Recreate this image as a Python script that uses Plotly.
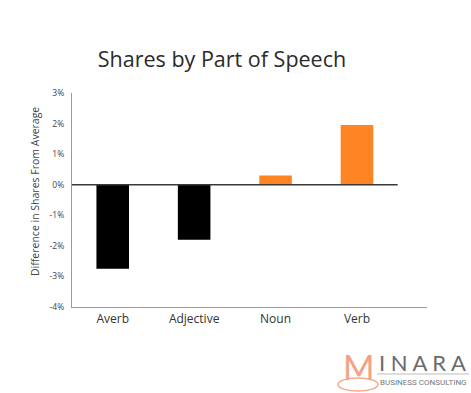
import plotly.graph_objects as go

categories = ["Averb", "Adjective", "Noun", "Verb"]
values = [-2.75, -1.8, 0.3, 1.95]
colors = ["#000000", "#000000", "#FF8424", "#FF8424"]
y_ticks = [3, 2, 1, 0, -1, -2, -3, -4]

W, H = 471, 393
L, R, T, B = 72, 44, 93, 86
pw = W - L - R
ph = H - T - B
FONT = "Open Sans, Lato, sans-serif"

fig = go.Figure()
fig.add_trace(go.Bar(
    x=categories, y=values, marker=dict(color=colors, line=dict(width=0)),
    width=0.4, hoverinfo="skip"
))

fig.update_layout(
    width=W, height=H,
    margin=dict(l=L, r=R, t=T, b=B),
    paper_bgcolor="white", plot_bgcolor="white",
    showlegend=False,
    font=dict(family=FONT, color="#333"),
    title=dict(text="Shares by Part of Speech", x=222 / W, xanchor="center",
               y=1 - 59 / H, yanchor="middle",
               font=dict(size=21.5, color="#2b2b2b", family=FONT)),
    xaxis=dict(
        range=[-0.5, 3.86], showgrid=False, zeroline=False,
        showline=True, linecolor="#9a9a9a", linewidth=1.2,
        ticks="", tickfont=dict(size=12, color="#333", family=FONT),
        fixedrange=True,
    ),
    yaxis=dict(
        range=[-4, 3], tickvals=y_ticks, ticktext=[f"{v}%" for v in y_ticks],
        showgrid=False, zeroline=False,
        showline=True, linecolor="#9a9a9a", linewidth=1.2,
        ticks="outside", ticklen=5, tickcolor="rgba(0,0,0,0)",
        tickfont=dict(size=8.5, color="#444", family=FONT),
        fixedrange=True,
    ),
)

# zero reference line spanning the categories
fig.add_shape(type="line", xref="x", yref="y", x0=-0.5, x1=3.5, y0=0, y1=0,
              line=dict(color="#3a3a3a", width=1.6), layer="above")

# y-axis title
fig.add_annotation(text="Difference in Shares From Average", textangle=-90,
                   xref="paper", yref="paper",
                   x=(35 - L) / pw, y=(H - B - 192) / ph,
                   xanchor="center", yanchor="middle", showarrow=False,
                   font=dict(size=10.5, color="#444", family=FONT))

# watermark logo
fig.add_shape(type="circle", xref="paper", yref="paper",
              x0=(338 - L) / pw, x1=(378 - L) / pw,
              y0=(H - B - 391) / ph, y1=(H - B - 378) / ph,
              line=dict(color="#F6A88C", width=1.5))
fig.add_annotation(text="M", xref="paper", yref="paper",
                   x=(359 - L) / pw, y=(H - B - 366) / ph,
                   xanchor="center", yanchor="middle", showarrow=False,
                   font=dict(size=34, color="#F4A283", family="Lato, sans-serif"))
fig.add_annotation(text="I N A R A", xref="paper", yref="paper",
                   x=(422 - L) / pw, y=(H - B - 362) / ph,
                   xanchor="center", yanchor="middle", showarrow=False,
                   font=dict(size=22, color="#6b6b6b", family="Lato, sans-serif"))
fig.add_shape(type="line", xref="paper", yref="paper",
              x0=(377 - L) / pw, x1=(469 - L) / pw,
              y0=(H - B - 374) / ph, y1=(H - B - 374) / ph,
              line=dict(color="#bdbdbd", width=1))
fig.add_annotation(text="BUSINESS CONSULTING", xref="paper", yref="paper",
                   x=(423 - L) / pw, y=(H - B - 382) / ph,
                   xanchor="center", yanchor="middle", showarrow=False,
                   font=dict(size=8, color="#777", family="Roboto, sans-serif"))

fig.write_html("out.html", config={"displayModeBar": False})
